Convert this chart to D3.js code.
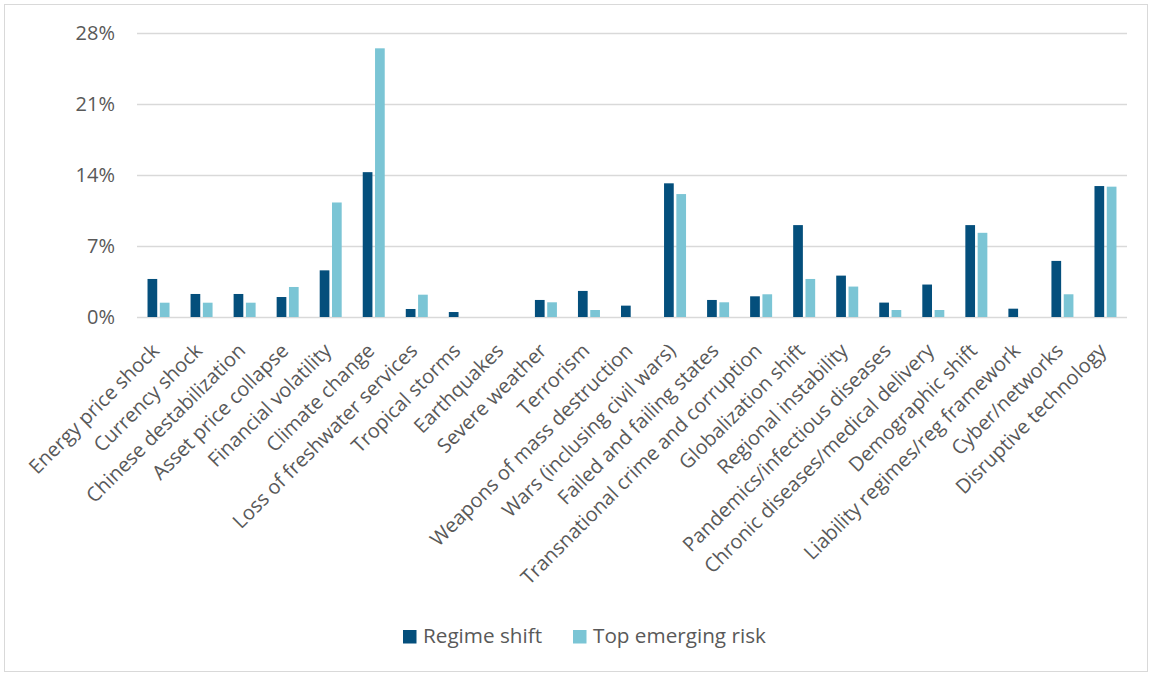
<!DOCTYPE html>
<html><head><meta charset="utf-8">
<script src="https://cdn.jsdelivr.net/npm/d3@7"></script>
<style>body{margin:0;background:#fff}svg{display:block}text{font-family:"Open Sans",sans-serif;fill:#595959}</style>
</head><body><svg id="c" width="1151" height="675"></svg>
<script>
const categories = ["Energy price shock","Currency shock","Chinese destabilization","Asset price collapse","Financial volatility","Climate change","Loss of freshwater services","Tropical storms","Earthquakes","Severe weather","Terrorism","Weapons of mass destruction","Wars (inclusing civil wars)","Failed and failing states","Transnational crime and corruption","Globalization shift","Regional instability","Pandemics/infectious diseases","Chronic diseases/medical delivery","Demographic shift","Liability regimes/reg framework","Cyber/networks","Disruptive technology"];
const regimeShift = [3.75,2.27,2.27,1.97,4.6,14.28,0.79,0.49,0,1.68,2.57,1.12,13.18,1.68,2.04,9.06,4.08,1.42,3.2,9.06,0.82,5.53,12.91];
const topEmergingRisk = [1.41,1.41,1.41,2.96,11.29,26.49,2.2,0,0,1.45,0.69,0,12.12,1.45,2.24,3.75,3.0,0.69,0.69,8.3,0,2.24,12.85];
const seriesNames = ["Regime shift","Top emerging risk"];
const yTicks = [0,7,14,21,28];
const colors = ["#044f7c","#7bc5d5"];

const svg = d3.select("#c");
svg.append("rect").attr("x",4.5).attr("y",4.5).attr("width",1143).attr("height",667).attr("fill","#fff").attr("stroke","#d9d9d9");
const x = d3.scaleBand().domain(categories).range([137,1127]).padding(0);
const y = d3.scaleLinear().domain([0,28]).range([317,33]);
const g = svg.append("g");
g.selectAll("line.grid").data(yTicks).join("line").attr("x1",137).attr("x2",1127)
 .attr("y1",d=>Math.round(y(d))+0.5).attr("y2",d=>Math.round(y(d))+0.5).attr("stroke","#d9d9d9").attr("stroke-width",1.5);
g.selectAll("text.yl").data(yTicks).join("text").attr("x",115).attr("y",d=>y(d)).attr("dy","0.36em")
 .attr("text-anchor","end").style("font-size","20px").text(d=>d+"%");
const bw = 9.7, gap = 2.6;
const series = [regimeShift, topEmergingRisk];
series.forEach((vals,si)=>{
  g.selectAll("rect.s"+si).data(vals).join("rect")
   .attr("x",(d,i)=>x(categories[i])+x.bandwidth()/2 + (si===0 ? -gap/2-bw : gap/2))
   .attr("width",bw).attr("y",d=>y(d)).attr("height",d=>y(0)-y(d))
   .attr("fill",colors[si]);
});
g.selectAll("text.xl").data(categories).join("text")
 .attr("transform",d=>`translate(${x(d)+x.bandwidth()/2-3},${347}) rotate(-45)`)
 .attr("text-anchor","end").attr("dy","0.35em").style("font-size","20px").text(d=>d);
const leg = svg.append("g");
const legX = [403,573];
seriesNames.forEach((n,i)=>{
  leg.append("rect").attr("x",legX[i]).attr("y",630).attr("width",13.5).attr("height",13.5).attr("fill",colors[i]);
  leg.append("text").attr("x",legX[i]+20).attr("y",643).style("font-size","20.7px").text(n);
});
</script></body></html>
